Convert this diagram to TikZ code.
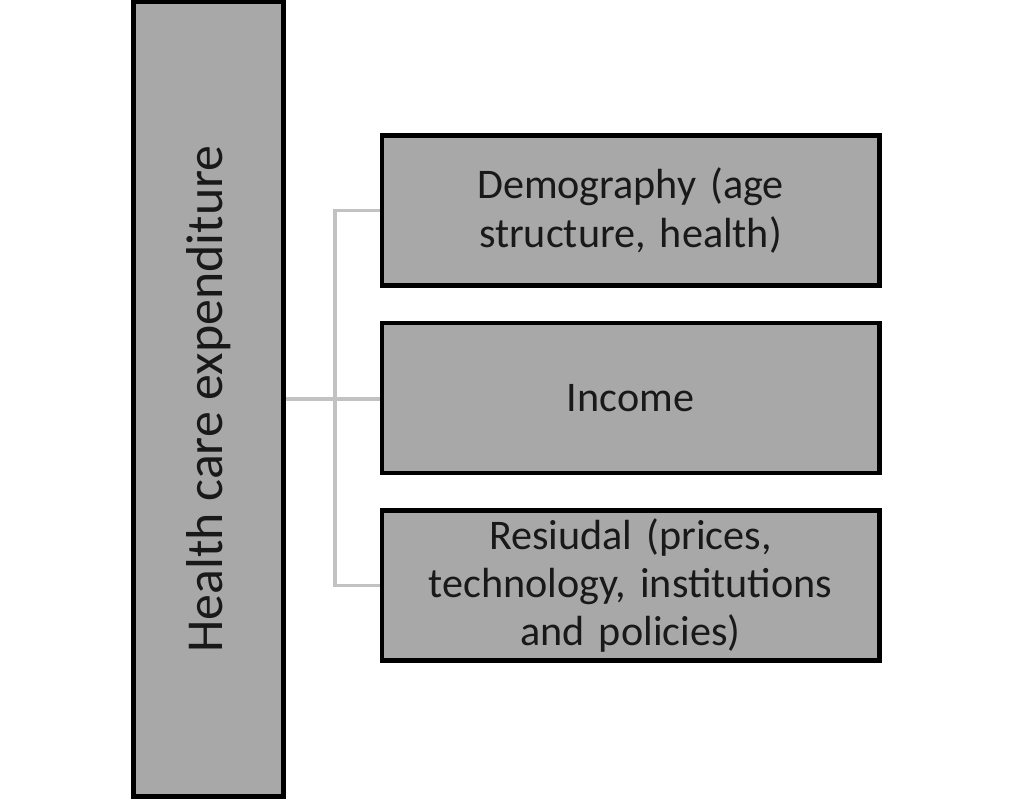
\documentclass[tikz,border=0pt]{standalone}
\usepackage{fontspec}
\setmainfont{Carlito}
\usetikzlibrary{positioning}

\begin{document}
\begin{tikzpicture}[x=0.02cm,y=-0.02cm,
  box/.style={draw=black,line width=2.6pt,fill=boxgray,text=black!90,align=center,font=\fontsize{24}{27.5}\selectfont},
  side/.style={box,rotate=90,minimum width=15.9cm,minimum height=3.0cm,font=\fontsize{29.5}{32}\selectfont},
  factor/.style={box,minimum width=9.95cm,minimum height=3.0cm,text width=9.5cm},
  link/.style={draw=linkgray,line width=2pt}]
\definecolor{boxgray}{HTML}{A8A8A8}
\definecolor{linkgray}{HTML}{C2C2C2}
\useasboundingbox (0,0) rectangle (1023,800);

\node[side] (hce) at (208.5,399) {Health care expenditure};

\node[factor] (demo) at (630.5,210.5) {Demography (age\\structure, health)};
\node[factor,below=0.66cm of demo] (income) {Income};
\node[factor,below=0.66cm of income] (resid) {Resiudal (prices,\\technology, institutions\\and policies)};

% tree connector
\coordinate (fork) at (335,0);
\draw[link] (demo.west) -| (fork |- resid.west) -- (resid.west);
\draw[link] (hce.south) -- (hce.south -| income.west);
\end{tikzpicture}
\end{document}
